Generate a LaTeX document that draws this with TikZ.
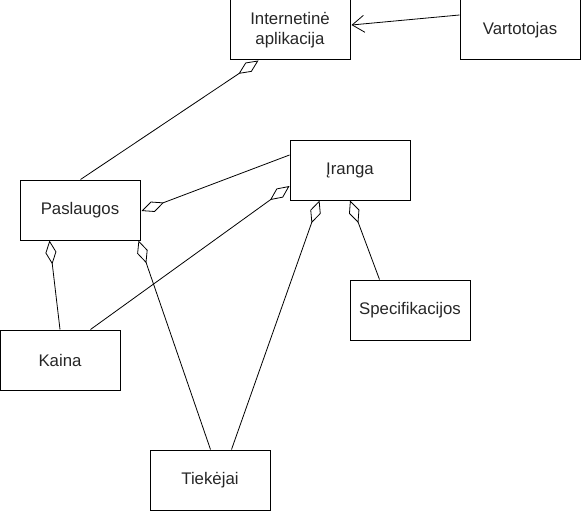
\documentclass[tikz,border=0pt]{standalone}
\usepackage{fontspec}
\setmainfont{Liberation Sans}
\usetikzlibrary{arrows.meta,calc}
\begin{document}
\begin{tikzpicture}[x=1pt,y=-1pt,
  ent/.style={draw,line width=1pt,minimum width=120pt,minimum height=60pt,inner sep=0pt,align=center,text=black!85,font=\fontsize{16.8}{20}\selectfont},
  agg/.style={line width=0.8pt,-{Diamond[open,length=24pt,width=11pt,line width=0.8pt]}},
  assoc/.style={line width=0.8pt,-{Straight Barb[length=12pt,width=17pt,line width=0.8pt]}}]
\useasboundingbox (0,0) rectangle (581,511);
\node[ent] (int) at (290,30) {Internetinė\\aplikacija};
\node[ent] (var) at (520,30) {Vartotojas};
\node[ent] (irg) at (350,170) {Įranga};
\node[ent] (pas) at (80,210) {Paslaugos};
\node[ent] (spe) at (410,310) {Specifikacijos};
\node[ent] (kai) at (60,360) {Kaina};
\node[ent] (tie) at (210,480) {Tiekėjai};
\draw[assoc] ($(var.west)+(0,-15)$) -- ($(int.east)+(1,-5)$);
\draw[agg] ($(pas.north west)+(61,0)$) -- ($(int.south west)+(29,0)$);
\draw[agg] ($(irg.west)+(0,-15)$) -- ($(pas.east)+(1,1)$);
\draw[agg] ($(kai.north west)+(91,0)$) -- ($(irg.west)+(0,16)$);
\draw[agg] (kai.north) -- ($(pas.south west)+(30,0)$);
\draw[agg] ($(tie.north west)+(61,0)$) -- ($(pas.south west)+(119,0)$);
\draw[agg] ($(tie.north west)+(82,0)$) -- ($(irg.south west)+(30,0)$);
\draw[agg] ($(spe.north west)+(30,0)$) -- (irg.south);
\end{tikzpicture}
\end{document}
